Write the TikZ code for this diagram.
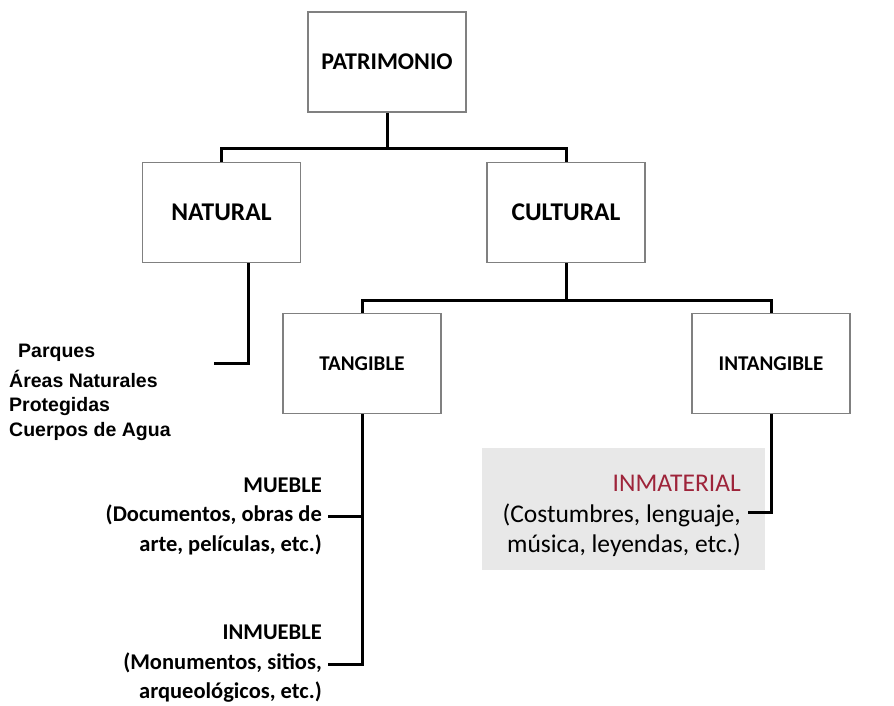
\documentclass[tikz,border=0pt]{standalone}
\usepackage{fontspec}
\usepackage{xcolor}
\usepackage{tikz}
\newfontfamily\carlito{Carlito}
\newfontfamily\arialfont{Liberation Sans}
\definecolor{boxgray}{RGB}{128,128,128}
\definecolor{notegray}{RGB}{232,232,232}
\definecolor{inmatred}{RGB}{158,36,58}

\begin{document}
\begin{tikzpicture}[x=1pt, y=-1pt,
    box/.style={draw=boxgray, line width=1.5pt, minimum width=158pt, minimum height=100pt, inner sep=0pt, font=\carlito\bfseries\fontsize{25.5}{31}\selectfont},
    subbox/.style={box, font=\carlito\bfseries\fontsize{21}{25}\selectfont},
    conn/.style={line width=3pt},
    note/.style={anchor=east, align=right, inner sep=0pt, font=\carlito\bfseries\fontsize{22.5}{29.5}\selectfont},
    list/.style={anchor=west, align=left, inner sep=0pt, font=\arialfont\bfseries\fontsize{19.5}{24.5}\selectfont}]
    \useasboundingbox (0,0) rectangle (894,705);
    % boxes
    \node[box, font=\carlito\bfseries\fontsize{24}{30}\selectfont] (patrimonio) at (387,62) {PATRIMONIO};
    \node[box] (natural)  at (221.5,212.5) {NATURAL};
    \node[box] (cultural) at (566,212.5) {CULTURAL};
    \node[subbox] (tangible)   at (362,363.5) {TANGIBLE};
    \node[subbox] (intangible) at (771,363.5) {INTANGIBLE};
    % grey note
    \node[fill=notegray, minimum width=283pt, minimum height=122pt, inner sep=0pt] (inmaterial) at (623.5,509) {};
    \node[note, font=\carlito\fontsize{25.5}{30.5}\selectfont] (inmattext) at (741,516)
        {\textcolor{inmatred}{INMATERIAL}\\(Costumbres, lenguaje,\\música, leyendas, etc.)};
    % side texts
    \node[list] (parques) at (18,353) {Parques};
    \node[list] (areas) at (9,405) {Áreas Naturales\\Protegidas\\Cuerpos de Agua};
    \node[note] (mueble) at (322,516) {MUEBLE\\(Documentos, obras de\\arte, películas, etc.)};
    \node[note] (inmueble) at (322,664) {INMUEBLE\\(Monumentos, sitios,\\arqueológicos, etc.)};
    \coordinate (natend) at (214,363);
    \coordinate (inmatend) at (748,512);
    % connectors
    \draw[conn] (patrimonio.south) -- ++(0,36) coordinate (toprow);
    \draw[conn] (natural.north) |- (toprow) -| (cultural.north);
    \draw[conn] (cultural.south) -- ++(0,37) coordinate (midrow);
    \draw[conn] (tangible.north) |- (midrow) -| (intangible.north);
    \draw[conn] ([xshift=27pt]natural.south) |- (natend);
    \draw[conn] (tangible.south) |- ([xshift=6pt]inmueble.east);
    \draw[conn] (tangible.south |- mueble.east) -- ([xshift=6pt]mueble.east);
    \draw[conn] (intangible.south) |- (inmatend);
\end{tikzpicture}
\end{document}
